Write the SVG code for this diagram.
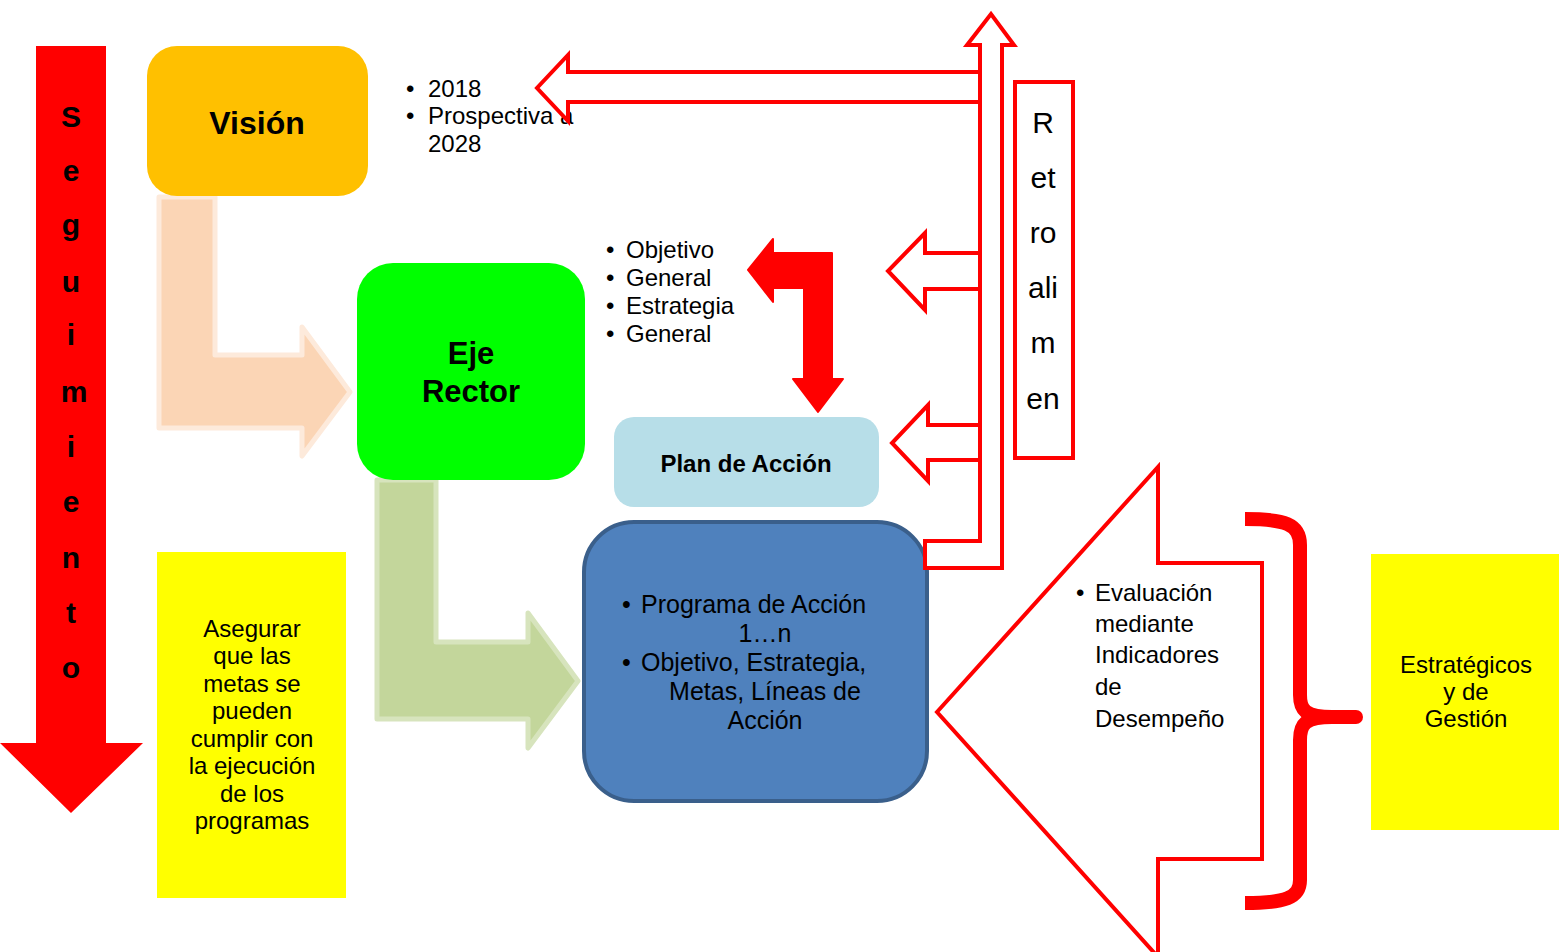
<svg xmlns="http://www.w3.org/2000/svg" width="1559" height="952" viewBox="0 0 1559 952">
<style>
text{font-family:"Liberation Sans",Arial,sans-serif;fill:#000}
.b{font-weight:bold}
.t24{font-size:24px}
.t25{font-size:25px}
.mid{text-anchor:middle}
.ro{fill:#fff;stroke:#ff0000;stroke-width:4;stroke-linejoin:miter}
</style>
<rect width="1559" height="952" fill="#fff"/>

<g id="seguimiento">
<polygon points="36,46 106,46 106,743 143,743 71,813 0,743 36,743" fill="#ff0000"/>
<g class="b mid" style="font-size:30px">
<text x="71" y="127">S</text>
<text x="71" y="181">e</text>
<text x="71" y="235">g</text>
<text x="71" y="292">u</text>
<text x="71" y="345">i</text>
<text x="74" y="402">m</text>
<text x="71" y="457">i</text>
<text x="71" y="512">e</text>
<text x="71" y="568">n</text>
<text x="71" y="623">t</text>
<text x="71" y="678">o</text>
</g>
</g>

<g id="connectors">
<polygon id="arrow-vision-eje" points="159,197 215,197 215,355 302,355 302,327 350,392 302,456 302,428 159,428" fill="#fbd5b5" stroke="#fdeadb" stroke-width="5" stroke-linejoin="round"/>
<polygon id="arrow-eje-programa" points="377,480 436,480 436,642 528,642 528,613 578,681 528,748 528,719 377,719" fill="#c3d69b" stroke="#d7e4bd" stroke-width="5" stroke-linejoin="round"/>
<polygon id="arrow-objetivo-plan" points="748,270 773,239 773,253 832,253 832,379 843,379 818,412 793,379 804,379 804,288 773,288 773,302" fill="#ff0000" stroke="#ff0000" stroke-width="2" stroke-linejoin="round"/>
</g>

<g id="vision">
<rect x="147" y="46" width="221" height="150" rx="30" fill="#ffc000"/>
<text class="b mid" x="257" y="134" style="font-size:32px">Visión</text>
</g>

<g id="vision-notes" class="t24">
<text><tspan x="406" y="97">•</tspan><tspan x="428" y="97">2018</tspan></text>
<text><tspan x="406" y="124">•</tspan><tspan x="428" y="124">Prospectiva a</tspan></text>
<text x="428" y="152">2028</text>
</g>

<g id="eje-rector">
<rect x="357" y="263" width="228" height="217" rx="36" fill="#00ff00"/>
<text class="b mid" x="471" y="364" style="font-size:31px">Eje</text>
<text class="b mid" x="471" y="402" style="font-size:31px">Rector</text>
</g>

<g id="eje-notes" class="t24">
<text><tspan x="606" y="258">•</tspan><tspan x="626" y="258">Objetivo</tspan></text>
<text><tspan x="606" y="286">•</tspan><tspan x="626" y="286">General</tspan></text>
<text><tspan x="606" y="314">•</tspan><tspan x="626" y="314">Estrategia</tspan></text>
<text><tspan x="606" y="342">•</tspan><tspan x="626" y="342">General</tspan></text>
</g>

<g id="plan-accion">
<rect x="614" y="417" width="265" height="90" rx="20" fill="#b7dee8"/>
<text class="b mid" x="746" y="472" style="font-size:24px">Plan de Acción</text>
</g>

<g id="programa">
<rect x="584" y="522" width="343" height="279" rx="50" fill="#4f81bd" stroke="#3a5f8b" stroke-width="4"/>
<g class="t25">
<text><tspan x="622" y="613">•</tspan><tspan x="641" y="613">Programa de Acción</tspan></text>
<text class="mid" x="765" y="642">1…n</text>
<text><tspan x="622" y="671">•</tspan><tspan x="641" y="671">Objetivo, Estrategia,</tspan></text>
<text class="mid" x="765" y="700">Metas, Líneas de</text>
<text class="mid" x="765" y="729">Acción</text>
</g>
</g>

<g id="asegurar">
<rect x="157" y="552" width="189" height="346" fill="#ffff00"/>
<g class="t24 mid">
<text x="252" y="637">Asegurar</text>
<text x="252" y="664">que las</text>
<text x="252" y="692">metas se</text>
<text x="252" y="719">pueden</text>
<text x="252" y="747">cumplir con</text>
<text x="252" y="774">la ejecución</text>
<text x="252" y="802">de los</text>
<text x="252" y="829">programas</text>
</g>
</g>

<g id="retroalimentacion-arrows">
<polygon class="ro" points="925,541 980,541 980,45 967,45 991,14 1014,45 1002,45 1002,568 925,568"/>
<polygon class="ro" points="980,72 568,72 568,55 537,88 568,121 568,102 980,102"/>
<polygon class="ro" points="980,253 925,253 925,233 888,271 925,310 925,289 980,289"/>
<polygon class="ro" points="980,425 928,425 928,405 892,443 928,481 928,460 980,460"/>
</g>

<g id="retroalimentacion">
<rect x="1015" y="82" width="58" height="376" fill="#fff" stroke="#ff0000" stroke-width="4"/>
<g class="mid" style="font-size:30px">
<text x="1043" y="133">R</text>
<text x="1043" y="188">et</text>
<text x="1043" y="243">ro</text>
<text x="1043" y="298">ali</text>
<text x="1043" y="353">m</text>
<text x="1043" y="409">en</text>
</g>
</g>

<g id="evaluacion">
<polygon class="ro" points="937,712 1158,467 1158,563 1262,563 1262,859 1158,859 1158,957" stroke-width="3.5"/>
<g class="t24">
<text><tspan x="1076" y="601">•</tspan><tspan x="1095" y="601">Evaluación</tspan></text>
<text x="1095" y="632">mediante</text>
<text x="1095" y="663">Indicadores</text>
<text x="1095" y="695">de</text>
<text x="1095" y="727">Desempeño</text>
</g>
</g>

<g id="brace">
<path d="M1245,519 C1285,519 1300,524 1300,545 L1300,695 C1300,710 1305,717 1332,717 L1356,717 M1332,717 C1305,717 1300,724 1300,740 L1300,880 C1300,898 1285,903 1245,903" fill="none" stroke="#ff0000" stroke-width="14"/>
<circle cx="1356" cy="717" r="7" fill="#ff0000"/>
</g>

<g id="estrategicos">
<rect x="1371" y="554" width="188" height="276" fill="#ffff00"/>
<g class="t24 mid">
<text x="1466" y="673">Estratégicos</text>
<text x="1466" y="700">y de</text>
<text x="1466" y="727">Gestión</text>
</g>
</g>
</svg>
